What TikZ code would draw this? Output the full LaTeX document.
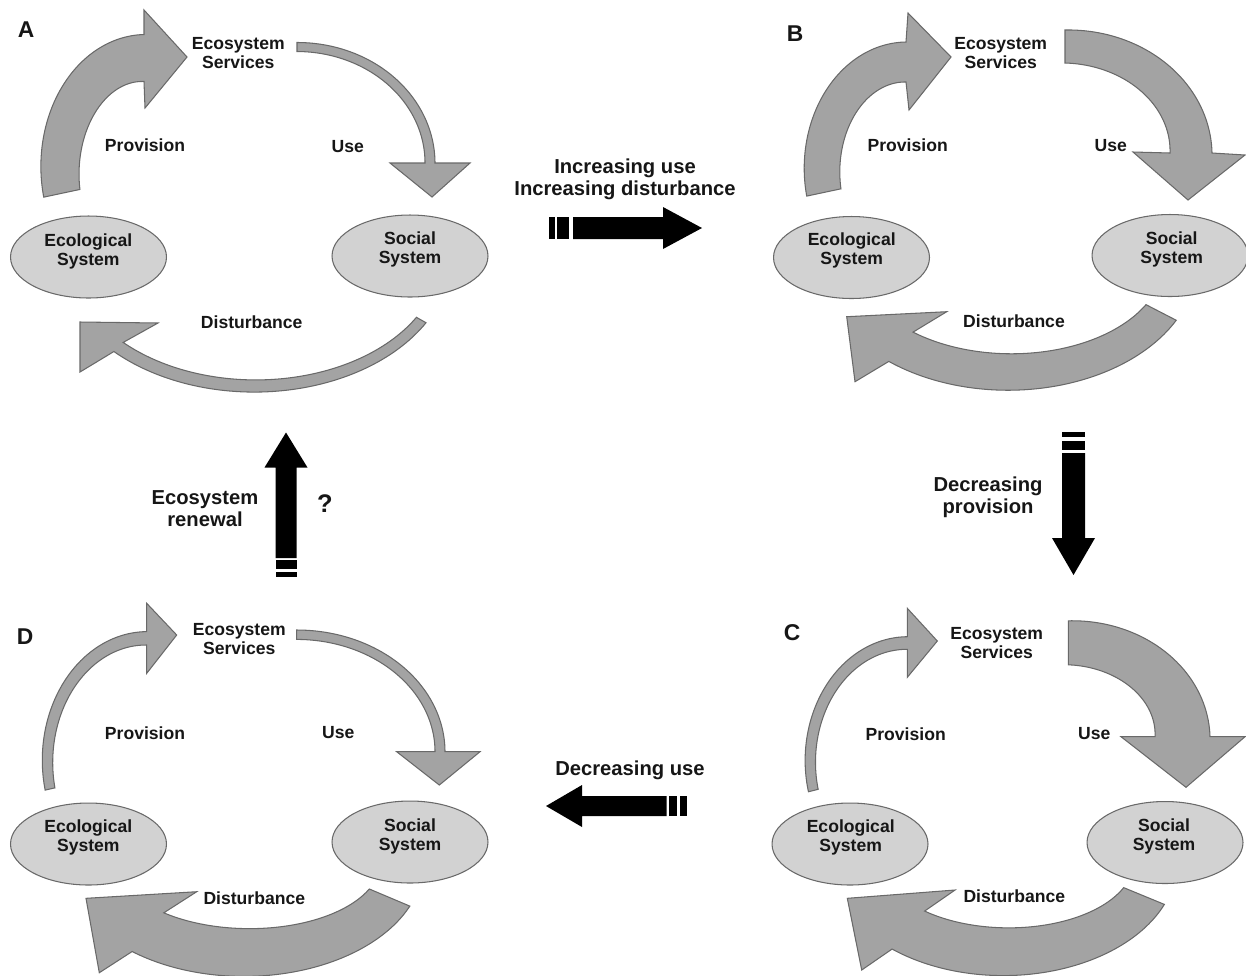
\documentclass[tikz,border=0pt]{standalone}
\usepackage{fontspec}
\setmainfont{Liberation Sans}
\usetikzlibrary{shapes.geometric}
\definecolor{arrowgray}{RGB}{163,163,163}
\definecolor{ellgray}{RGB}{210,210,210}
\definecolor{edgegray}{RGB}{105,105,105}
\definecolor{txt}{RGB}{22,22,22}
% curved block arrow: cx, cy, rx, ry, start angle, end angle, tail half-width, head-end half-width, head path
\newcommand\carr[9]{%
  \filldraw[arr] plot[domain=#5:#6,samples=70,variable=\myt]
    ({#1+(#3+(#7+(#8-#7)*(\myt-#5)/(#6-#5)))*cos(\myt)},{#2+(#4+(#7+(#8-#7)*(\myt-#5)/(#6-#5)))*sin(\myt)})
    -- #9 --
    plot[domain=#6:#5,samples=70,variable=\myt]
    ({#1+(#3-(#7+(#8-#7)*(\myt-#5)/(#6-#5)))*cos(\myt)},{#2+(#4-(#7+(#8-#7)*(\myt-#5)/(#6-#5)))*sin(\myt)})
    -- cycle;}
\begin{document}
\begin{tikzpicture}[x=0.02cm,y=-0.02cm,
  arr/.style={fill=arrowgray,draw=edgegray,line width=0.6pt,line join=miter},
  ell/.style={ellipse,fill=ellgray,draw=edgegray,line width=0.6pt,minimum width=3.12cm,minimum height=1.64cm,inner sep=0pt},
  lbl/.style={font=\fontsize{10}{10.8}\selectfont\bfseries,align=center,inner sep=0pt,text=txt},
  midtxt/.style={font=\fontsize{11.5}{12.5}\selectfont\bfseries,align=center,inner sep=0pt,text=txt},
  letter/.style={font=\fontsize{13}{13}\selectfont\bfseries,inner sep=0pt,text=txt},
  blk/.style={fill=black}]
\useasboundingbox (0,0) rectangle (1246,975);

% ---------------- Panel A ----------------
\carr{144}{170}{84}{112}{168}{270}{18.5}{23.5}{(144,10) -- (187,57) -- (145,108)}
\carr{297}{163}{133}{116}{270}{360}{4.5}{5}{(470,163) -- (432,197) -- (390,163)}
\carr{255}{256}{191}{130}{29.5}{135.6}{5.5}{6.5}{(80,372) -- (80,322) -- (158,323)}
\node[ell] (ecoA) at (88.5,257) {};
\node[ell] (socA) at (410,256) {};
\node[lbl] (ecoAt) at (88.3,251) {Ecological\\System};
\node[lbl] (socAt) at (410,249) {Social\\System};
\node[lbl] (esA) at (238.3,53.3) {Ecosystem\\Services};
\node[lbl] (provA) at (145,145.7) {Provision};
\node[lbl] (useA) at (347.7,146.7) {Use};
\node[lbl] (distA) at (251.7,322.7) {Disturbance};
\node[letter] (labA) at (26,30) {A};

% ---------------- Panel B ----------------
\carr{906}{170}{84}{108}{168}{270}{17.5}{20}{(908,13) -- (951,57) -- (909,110)}
\carr{1065}{153}{126}{106.5}{270}{360}{16.5}{21}{(1245,155) -- (1188,200) -- (1133,152)}
\carr{1009.6}{262}{170.5}{110}{27.3}{129.6}{17}{19}{(855,381.7) -- (846.7,316.7) -- (946.7,311.7)}
\node[ell] (ecoB) at (851.5,257.5) {};
\node[ell] (socB) at (1170,255.5) {};
\node[lbl] (ecoBt) at (851.7,250.5) {Ecological\\System};
\node[lbl] (socBt) at (1171.7,249) {Social\\System};
\node[lbl] (esB) at (1000.7,53.3) {Ecosystem\\Services};
\node[lbl] (provB) at (907.7,145.7) {Provision};
\node[lbl] (useB) at (1110.7,145.7) {Use};
\node[lbl] (distB) at (1014,321.7) {Disturbance};
\node[letter] (labB) at (795,34) {B};

% ---------------- Panel C ----------------
\carr{907.3}{761.3}{97}{118.3}{165.7}{270}{5}{6.3}{(907.3,608.3) -- (937.3,641) -- (907.3,677.3)}
\carr{1068.3}{736.7}{114.2}{93.9}{270}{360}{22}{27.5}{(1245,736.7) -- (1186,787.3) -- (1121,736.7)}
\carr{1005.7}{861.7}{149.6}{90}{22.4}{130.6}{22}{25}{(861.7,970) -- (847.3,898.3) -- (955,890)}
\node[ell] (ecoC) at (850,844) {};
\node[ell] (socC) at (1165,842.5) {};
\node[lbl] (ecoCt) at (850.7,837.5) {Ecological\\System};
\node[lbl] (socCt) at (1164,836) {Social\\System};
\node[lbl] (esC) at (996.7,643.3) {Ecosystem\\Services};
\node[lbl] (provC) at (905.7,734) {Provision};
\node[lbl] (useC) at (1094.3,734) {Use};
\node[lbl] (distC) at (1014.3,896) {Disturbance};
\node[letter] (labC) at (792,633) {C};

% ---------------- Panel D ----------------
\carr{146.7}{761.3}{99.2}{123}{167}{270}{5}{6.7}{(146.7,603.3) -- (176.7,635) -- (146.7,673.3)}
\carr{296.7}{751.7}{143.3}{117}{270}{360}{4.7}{5}{(480,751.7) -- (439.3,785) -- (396.7,751.7)}
\carr{246.4}{862.5}{155.4}{90}{22.9}{129.3}{22}{25}{(99.3,972.7) -- (86,898.3) -- (196.7,891.7)}
\node[ell] (ecoD) at (88.5,844) {};
\node[ell] (socD) at (410,842) {};
\node[lbl] (ecoDt) at (88.3,837.5) {Ecological\\System};
\node[lbl] (socDt) at (410,836) {Social\\System};
\node[lbl] (esD) at (239.3,638.7) {Ecosystem\\Services};
\node[lbl] (provD) at (145,732.7) {Provision};
\node[lbl] (useD) at (338.3,732.7) {Use};
\node[lbl] (distD) at (254.3,898.3) {Disturbance};
\node[letter] (labD) at (25,636.7) {D};

% ---------------- Transition arrows ----------------
% A -> B
\fill[blk] (549,217) rectangle (555,239);
\fill[blk] (557,217) rectangle (569,239);
\fill[blk] (573,217) -- (663,217) -- (663,207) -- (702,228) -- (663,249) -- (663,239) -- (573,239) -- cycle;
\node[midtxt] (tAB) at (625,179) {Increasing use\\Increasing disturbance};
% B -> C
\fill[blk] (1062,432) rectangle (1085,437);
\fill[blk] (1062,441) rectangle (1085,450);
\fill[blk] (1062,453) -- (1062,538) -- (1052,538) -- (1073.5,575) -- (1095,538) -- (1085,538) -- (1085,453) -- cycle;
\node[midtxt] (tBC) at (988,497.5) {Decreasing\\provision};
% C -> D
\fill[blk] (680,796) rectangle (687,816);
\fill[blk] (669,796) rectangle (677,816);
\fill[blk] (666.5,796) -- (582,796) -- (582,785) -- (546,806) -- (582,827) -- (582,816) -- (666.5,816) -- cycle;
\node[midtxt] (tCD) at (630,770) {Decreasing use};
% D -> A
\fill[blk] (275.5,571.5) rectangle (296.5,577);
\fill[blk] (275.5,560) rectangle (296.5,569);
\fill[blk] (275.5,558) -- (275.5,467.5) -- (264.5,467.5) -- (286,432.5) -- (307.5,467.5) -- (296.5,467.5) -- (296.5,558) -- cycle;
\node[midtxt] (tDA) at (205,508.3) {Ecosystem\\renewal};
\node[font=\fontsize{14.5}{14.5}\selectfont\bfseries,inner sep=0pt,text=txt] (qDA) at (325,503.3) {?};
\end{tikzpicture}
\end{document}
